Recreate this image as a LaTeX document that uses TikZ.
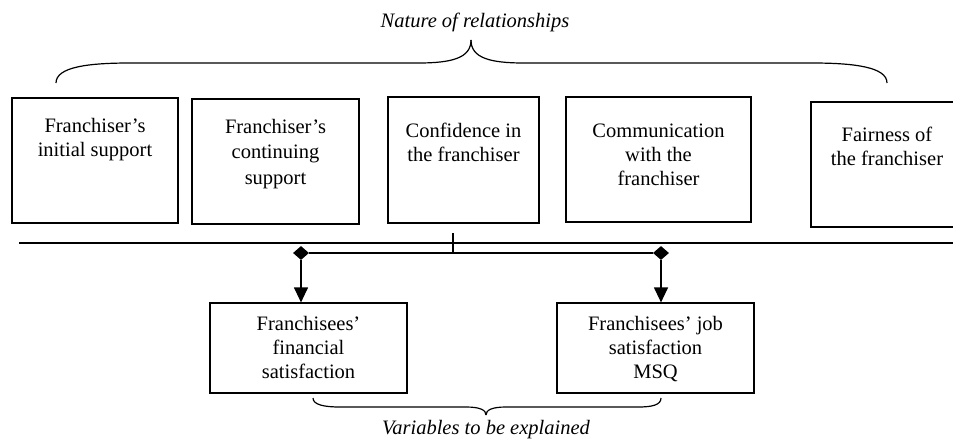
\documentclass[tikz,border=0pt]{standalone}
\usepackage{fontspec}
\setmainfont{Liberation Serif}
\usetikzlibrary{arrows.meta,shapes.geometric}
\tikzset{
  box/.style={draw, line width=1.2pt, inner sep=0pt},
  txt/.style={align=center, anchor=base, inner sep=0pt, font=\fontsize{20.5}{24}\selectfont},
  conn/.style={line width=1.2pt},
  junction/.style={diamond, fill=black, inner sep=0pt, minimum width=16pt, minimum height=14pt},
}
\begin{document}
\begin{tikzpicture}[x=1pt,y=-1pt]
\useasboundingbox (0,0) rectangle (953,440);
% top label and brace
\node[txt, font=\fontsize{20.5}{24}\selectfont\itshape] (nature) at (475,27) {Nature of relationships};
\draw[line width=1.2pt] (56,83) .. controls (56,67) and (88,63) .. (130,63) -- (418,63)
  .. controls (452,63) and (471,58) .. (471,40);
\draw[line width=1.2pt] (471,40) .. controls (471,58) and (490,63) .. (524,63) -- (812,63)
  .. controls (854,63) and (887,67) .. (887,83);
% explanatory variables (text nodes sit on their last baseline)
\node[box, minimum width=166pt, minimum height=125pt] (b1) at (95,160.5) {};
\node[box, minimum width=167pt, minimum height=125pt] (b2) at (275.5,161.5) {};
\node[box, minimum width=151pt, minimum height=126pt] (b3) at (463.5,160) {};
\node[box, minimum width=185pt, minimum height=125pt] (b4) at (658.5,159.5) {};
\node[box, minimum width=152pt, minimum height=125pt] (b5) at (887,164.5) {};
\node[txt] (t1) at (95,156) {Franchiser's\\initial support};
\node[txt, font=\fontsize{20.5}{25.5}\selectfont] (t2) at (275.5,184) {Franchiser's\\continuing\\support};
\node[txt] (t3) at (463.5,161) {Confidence in\\the franchiser};
\node[txt] (t4) at (658.5,185) {Communication\\with the\\franchiser};
\node[txt] (t5) at (887,165) {Fairness of\\the franchiser};
% separating line and links
\coordinate (lineL) at (19,243);
\coordinate (lineR) at (953,243);
\draw[line width=1.5pt] (lineL) -- (lineR);
\node[junction] (j1) at (301,253) {};
\node[junction] (j2) at (661,253) {};
\coordinate (tick) at (453,233);
\draw[conn] (j1) -- (j2);
\draw[conn] (tick) -- (tick |- j1);
% variables to be explained
\node[box, minimum width=197pt, minimum height=90pt] (f1) at (308.5,348) {};
\node[box, minimum width=197pt, minimum height=90pt] (f2) at (655.5,348) {};
\node[txt] (s1) at (308.5,378) {Franchisees'\\financial\\satisfaction};
\node[txt] (s2) at (655.5,378) {Franchisees' job\\satisfaction\\MSQ};
\draw[conn, -{Triangle[length=15pt,width=14pt]}] (j1.south) -- (j1.south |- f1.north);
\draw[conn, -{Triangle[length=15pt,width=14pt]}] (j2.south) -- (j2.south |- f2.north);
% bottom brace and label
\draw[line width=1.2pt] (313,398) .. controls (313,405) and (325,407) .. (340,407) -- (466,407)
  .. controls (480,407) and (486,410) .. (486,415);
\draw[line width=1.2pt] (486,415) .. controls (486,410) and (492,407) .. (506,407) -- (638,407)
  .. controls (652,407) and (661,405) .. (661,398);
\node[txt, font=\fontsize{20.5}{24}\selectfont\itshape] (explained) at (486,434) {Variables to be explained};
\end{tikzpicture}
\end{document}
